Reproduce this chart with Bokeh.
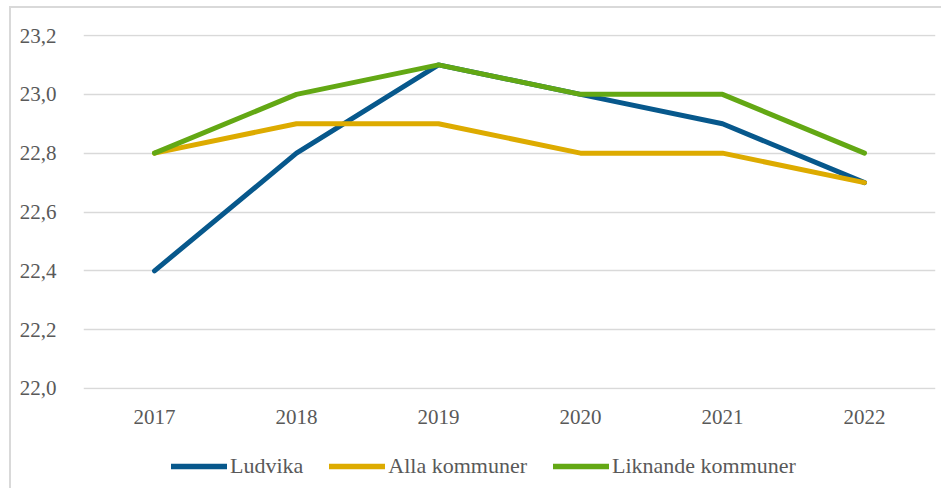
from bokeh.plotting import figure
from bokeh.layouts import column
from bokeh.models import FactorRange, Range1d, FixedTicker, CustomJSTickFormatter, Legend, LegendItem
from bokeh.embed import file_html
from bokeh.resources import INLINE

years = ["2017", "2018", "2019", "2020", "2021", "2022"]
ludvika = [22.4, 22.8, 23.1, 23.0, 22.9, 22.7]
alla = [22.8, 22.9, 22.9, 22.8, 22.8, 22.7]
liknande = [22.8, 23.0, 23.1, 23.0, 23.0, 22.8]
series_names = ["Ludvika", "Alla kommuner", "Liknande kommuner"]
y_ticks = [22.0, 22.2, 22.4, 22.6, 22.8, 23.0, 23.2]

colors = ["#07588c", "#ddab00", "#63a814"]
FONT = "Liberation Serif"
TXT = "#595959"
PAD = 0.0034

p = figure(
    x_range=FactorRange(*years),
    y_range=Range1d(y_ticks[0] - PAD, y_ticks[-1] + PAD),
    width=930, height=430,
    output_backend="svg", toolbar_location=None,
    min_border_left=72, min_border_right=6, min_border_top=26, min_border_bottom=49,
)
p.outline_line_color = None
p.background_fill_color = "white"
p.border_fill_color = "white"

p.xgrid.grid_line_color = None
p.ygrid.grid_line_color = "#d9d9d9"
p.ygrid.grid_line_width = 1.6

p.yaxis.ticker = FixedTicker(ticks=y_ticks)
p.yaxis.formatter = CustomJSTickFormatter(code="return tick.toFixed(1).replace('.', ',');")
for ax in (p.xaxis, p.yaxis):
    ax.axis_line_color = None
    ax.major_tick_line_color = None
    ax.minor_tick_line_color = None
    ax.major_label_text_font = FONT
    ax.major_label_text_font_size = "21px"
    ax.major_label_text_color = TXT
p.yaxis.major_label_standoff = 21
p.xaxis.major_label_standoff = 14

all_series = [ludvika, alla, liknande]
for vals, c in zip(all_series, colors):
    p.line(years, vals, line_color=c, line_width=5, line_cap="round", line_join="round")

# legend strip below the chart (series drawn outside its visible range; only the legend shows)
p2 = figure(
    x_range=Range1d(0, 1), y_range=Range1d(0, 1),
    width=930, height=50,
    output_backend="svg", toolbar_location=None,
    min_border_left=0, min_border_right=0, min_border_top=0, min_border_bottom=0,
)
p2.axis.visible = False
p2.grid.grid_line_color = None
p2.outline_line_color = None
p2.border_fill_color = "white"
p2.background_fill_color = "white"

idx = list(range(len(years)))
leg_renderers = []
for vals, c in zip(all_series, colors):
    r = p2.line(x=idx, y=vals, line_color=c, line_width=5.5, line_cap="round")
    leg_renderers.append(r)

legend = Legend(
    items=[LegendItem(label=n, renderers=[r]) for n, r in zip(series_names, leg_renderers)],
    orientation="horizontal", location=(88, 9),
    label_text_font=FONT, label_text_font_size="22px", label_text_color=TXT,
    glyph_width=56, glyph_height=22, label_standoff=3, spacing=26,
    border_line_color=None, background_fill_alpha=0, padding=0, margin=0,
)
p2.add_layout(legend, "center")

layout = column(p, p2, spacing=0)
layout.styles = {
    "margin-left": "9px", "margin-top": "6px",
    "border-left": "2px solid #d9d9d9", "border-top": "2px solid #d9d9d9",
}

open("out.html", "w").write(file_html(layout, INLINE))
